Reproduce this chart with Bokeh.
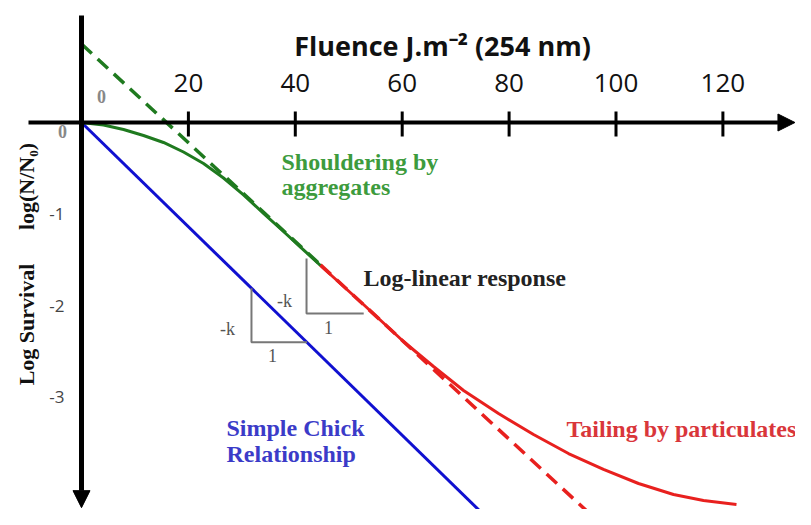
import math
from bokeh.plotting import figure
from bokeh.models import Range1d, Arrow, NormalHead, Label
from bokeh.core.properties import value
from bokeh.embed import file_html
from bokeh.resources import INLINE

# ---------------- data ----------------
x_ticks = [20, 40, 60, 80, 100, 120]
x_tick_labels = ["20", "40", "60", "80", "100", "120"]
y_ticks = [-1, -2, -3]
y_tick_labels = ["-1", "-2", "-3"]

# Simple Chick relationship (log-linear from origin)
chick_x = [0, 78.2]
chick_y = [0, -4.45]

# Shouldering by aggregates (green solid)
shoulder_x = [0, 4.12, 7.86, 11.60, 15.34, 19.08, 22.83, 26.57, 30.31, 34.05, 37.79, 41.53, 44.71]
shoulder_y = [0, -0.027, -0.076, -0.142, -0.218, -0.322, -0.448, -0.606, -0.791, -0.991, -1.190, -1.390, -1.561]

# Log-linear response then tailing by particulates (red solid)
tail_x = [44.71, 52.76, 60.24, 65.86, 71.48, 78.02, 84.57, 91.11, 97.66, 104.21, 110.76, 116.37, 122.54]
tail_y = [-1.561, -1.987, -2.391, -2.664, -2.926, -3.177, -3.406, -3.614, -3.788, -3.941, -4.061, -4.127, -4.170]

# Extrapolated log-linear asymptote (dashed)
asym_green_x = [0, 44.71]
asym_green_y = [0.857, -1.554]
asym_red_x = [44.71, 98.4]
asym_red_y = [-1.554, -4.45]

# slope triangles (-k per 1 unit)
tri1_x = [31.8, 31.8, 42.2]
tri1_y = [-1.81, -2.40, -2.40]
tri2_x = [42.1, 42.1, 52.8]
tri2_y = [-1.485, -2.085, -2.085]

# ---------------- layout ----------------
W, H = 795, 509
X0_PX, X_SCALE = 81.0, 5.345     # px of x=0, px per unit
Y0_PX, Y_SCALE = 122.0, 91.6     # px of y=0, px per unit
XMIN, XMAX = -X0_PX / X_SCALE, (W - X0_PX) / X_SCALE
YMAX, YMIN = Y0_PX / Y_SCALE, -(H - Y0_PX) / Y_SCALE


def ax(sx):
    return (sx - X0_PX) / X_SCALE


def ay(sy):
    return (Y0_PX - sy) / Y_SCALE


p = figure(width=W, height=H, x_range=Range1d(XMIN, XMAX), y_range=Range1d(YMIN, YMAX),
           output_backend="svg", toolbar_location=None, min_border=0,
           x_axis_location=None, y_axis_location=None)
p.grid.visible = False
p.outline_line_color = None
p.background_fill_color = "white"

GREEN = "#1f7a1f"
RED = "#e8201e"
BLUE = "#1010d0"

# curves
p.line(asym_green_x, asym_green_y, line_color=GREEN, line_width=3.5, line_dash="14 8")
p.line(asym_red_x, asym_red_y, line_color=RED, line_width=3.5, line_dash="14 8")
p.line(chick_x, chick_y, line_color=BLUE, line_width=3)
p.line(shoulder_x, shoulder_y, line_color=GREEN, line_width=3)
p.line(tail_x, tail_y, line_color=RED, line_width=3)

# triangles
p.line(tri1_x, tri1_y, line_color="#777777", line_width=2)
p.line(tri2_x, tri2_y, line_color="#777777", line_width=2)

# axes with arrows
p.add_layout(Arrow(end=NormalHead(size=17, fill_color="black", line_color="black"),
                   x_start=ax(28), y_start=0, x_end=XMAX - 0.1, y_end=0,
                   line_width=4, line_color="black"))
p.add_layout(Arrow(end=NormalHead(size=17, fill_color="black", line_color="black"),
                   x_start=0, y_start=ay(15), x_end=0, y_end=YMIN + 0.02,
                   line_width=5, line_color="black"))

# x ticks
p.segment(x0=x_ticks, y0=[11 / Y_SCALE] * len(x_ticks), x1=x_ticks,
          y1=[-14 / Y_SCALE] * len(x_ticks), line_color="black", line_width=3)
p.text(x=x_ticks, y=[ay(82)] * len(x_ticks), text=x_tick_labels,
       text_font=value("Open Sans"), text_font_size="26px", text_color="#111111",
       text_align="center", text_baseline="middle")

# y tick labels
p.text(x=[ax(64)] * len(y_ticks), y=y_ticks, text=y_tick_labels,
       text_font=value("Open Sans"), text_font_size="17px", text_color="#444444",
       text_align="right", text_baseline="middle")


def lab(sx, sy, text, size, color, font="Liberation Serif", style="bold", align="left", angle=0.0):
    p.add_layout(Label(x=ax(sx), y=ay(sy), text=text, text_font=font, text_font_size=size,
                       text_font_style=style, text_color=color, text_align=align,
                       text_baseline="middle", angle=angle))


# zero labels
lab(101, 96, "0", "18px", "#888888", align="center")
lab(62, 131, "0", "18px", "#888888", align="center")

# title
lab(442, 45, "Fluence J.m\u207b\u00b2 (254 nm)", "27px", "#111111", font="Open Sans", align="center")

# y axis title (two parts)
lab(26, 324, "Log Survival", "22px", "#111111", align="center", angle=math.pi / 2)
lab(26, 186, "log(N/N\u2080)", "22px", "#111111", align="center", angle=math.pi / 2)

# annotations
lab(281, 161, "Shouldering by", "24px", "#3d9b3d")
lab(281, 186, "aggregates", "24px", "#3d9b3d")
lab(363, 277, "Log-linear response", "24px", "#222222")
lab(226, 427, "Simple Chick", "24px", "#3b3bc8")
lab(226, 453, "Relationship", "24px", "#3b3bc8")
lab(566, 428, "Tailing by particulates", "24px", "#d9363a")

lab(227, 328, "-k", "18px", "#555555", style="normal", align="center")
lab(284, 300, "-k", "18px", "#555555", style="normal", align="center")
lab(272, 355, "1", "18px", "#555555", style="normal", align="center")
lab(328, 327, "1", "18px", "#555555", style="normal", align="center")

open("out.html", "w").write(file_html(p, INLINE))
